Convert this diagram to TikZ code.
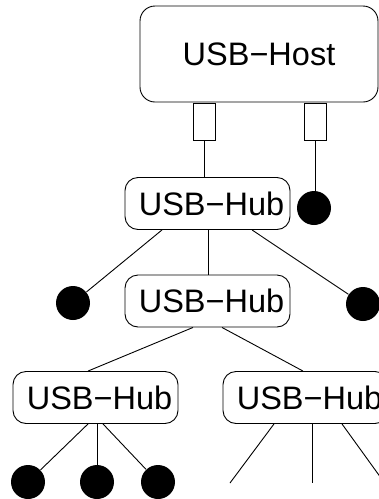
\documentclass[tikz,border=0pt]{standalone}
\usepackage{fontspec}
\setmainfont{Liberation Sans}
\begin{document}
\begin{tikzpicture}[x=1pt,y=-1pt,line width=0.9pt,
  box/.style={draw,rounded corners=13pt,minimum width=165pt,minimum height=52pt,inner sep=0pt,font=\fontsize{32.5}{38}\selectfont},
  hostbox/.style={draw,rounded corners=15pt,minimum width=238pt,minimum height=96pt,inner sep=0pt,font=\fontsize{32.5}{38}\selectfont},
  port/.style={draw,minimum width=22pt,minimum height=37pt,inner sep=0pt},
  dev/.style={circle,fill=black,minimum size=34pt,inner sep=0pt}]
\useasboundingbox (0,0) rectangle (379,499);
\node[hostbox] (host) at (259,54) {USB−Host};
\node[port] (p1) at (204,121.5) {};
\node[port] (p2) at (315,121.5) {};
\node[box] (hub1) at (207.5,203.5) {\hspace*{8pt}USB−Hub};
\node[dev] (d1) at (314,208) {};
\node[dev] (d2) at (73,303) {};
\node[dev] (d3) at (363,304) {};
\node[box] (hub2) at (207.5,301) {\hspace*{8pt}USB−Hub};
\node[box] (hub3) at (95.5,397.5) {\hspace*{8pt}USB−Hub};
\node[box] (hub4) at (305.5,397.5) {\hspace*{8pt}USB−Hub};
\node[dev] (d4) at (28,482) {};
\node[dev] (d5) at (97,482) {};
\node[dev] (d6) at (158,482) {};
\coordinate (e1) at (230,483);
\coordinate (e2) at (312,483);
\coordinate (e3) at (385,483.5);
\draw (p1.south) -- (p1.south |- hub1.north);
\draw (p2.south) -- (p2.south |- d1.north);
\draw ([xshift=-45.5pt]hub1.south) -- (d2);
\draw ([xshift=0.5pt]hub1.south) -- ([xshift=0.5pt]hub2.north);
\draw ([xshift=44.5pt]hub1.south) -- (d3);
\draw ([xshift=-14.5pt]hub2.south) -- ([xshift=-7.5pt]hub3.north);
\draw ([xshift=14.5pt]hub2.south) -- ([xshift=-2.5pt]hub4.north);
\draw ([xshift=-7.5pt]hub3.south) -- (d4);
\draw ([xshift=1.5pt]hub3.south) -- (d5.north);
\draw ([xshift=7.5pt]hub3.south) -- (d6);
\draw ([xshift=-31.5pt]hub4.south) -- (e1);
\draw ([xshift=6.5pt]hub4.south) -- (e2);
\draw ([xshift=36.5pt]hub4.south) -- (e3);
\end{tikzpicture}
\end{document}
